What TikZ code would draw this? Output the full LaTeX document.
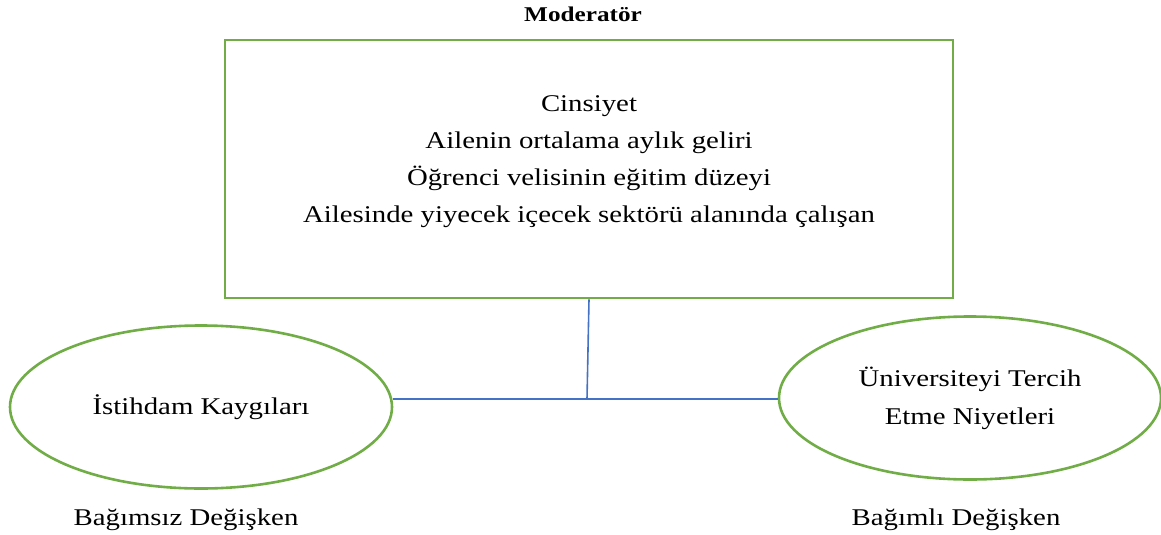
\documentclass[tikz,border=0pt]{standalone}
\usepackage{fontspec}
\setmainfont{Liberation Serif}[FakeStretch=1.2]
\usetikzlibrary{shapes.geometric}
\definecolor{grn}{HTML}{70AD47}
\definecolor{blu}{HTML}{4472C4}
\tikzset{
  box/.style={draw=grn,line width=2.6pt,minimum width=728pt,minimum height=258pt,inner sep=0pt},
  oval/.style={draw=grn,line width=2.6pt,ellipse,minimum width=382pt,minimum height=163pt,inner sep=0pt,align=center,font=\fontsize{24}{38}\selectfont},
  conn/.style={draw=blu,line width=1.6pt},
  txt/.style={font=\fontsize{24}{37}\selectfont,align=center,inner sep=0pt},
}
\begin{document}
\begin{tikzpicture}[x=1pt,y=-1pt]
\useasboundingbox (0,0) rectangle (1161,535);
\node[txt,font=\bfseries\fontsize{21}{22}\selectfont] (title) at (583,14) {Moderatör};
\node[box] (mod) at (589,169) {};
\node[txt] (modtxt) at (589,162) {Cinsiyet\\Ailenin ortalama aylık geliri\\Öğrenci velisinin eğitim düzeyi\\Ailesinde yiyecek içecek sektörü alanında çalışan};
\node[oval] (iv) at (201,407) {İstihdam Kaygıları};
\node[oval] (dv) at (970,398) {Üniversiteyi Tercih\\Etme Niyetleri};
\node[txt] (ivl) at (186,520) {Bağımsız Değişken};
\node[txt] (dvl) at (956,520) {Bağımlı Değişken};
\coordinate (j) at (587,399);
\draw[conn] (mod.south) -- (j);
\draw[conn] (j) -- (j -| iv.east);
\draw[conn] (j) -- (j -| dv.west);
\end{tikzpicture}
\end{document}
